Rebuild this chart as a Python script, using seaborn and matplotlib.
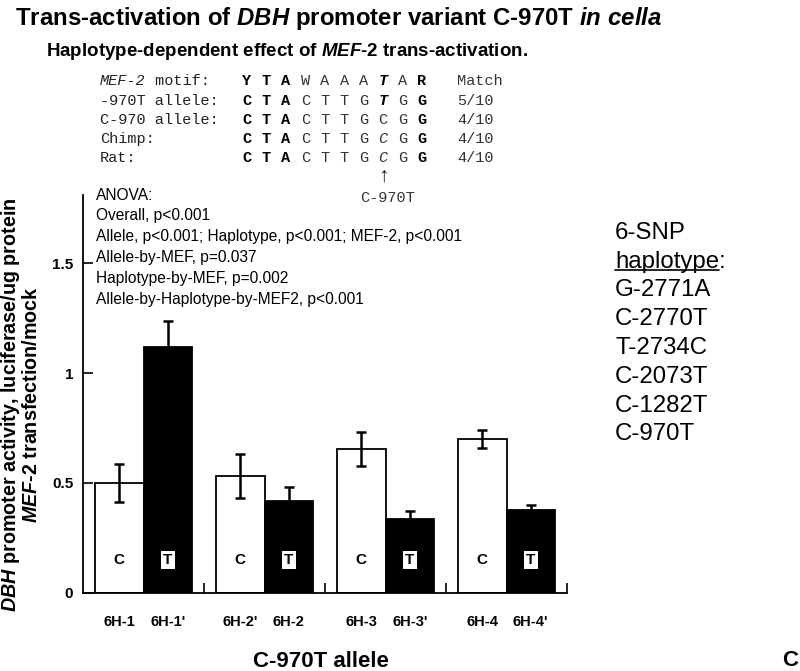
import numpy as np
import pandas as pd
import matplotlib
matplotlib.use("Agg")
import matplotlib.pyplot as plt
from matplotlib.lines import Line2D
import seaborn as sns

# -----------------------------
# Data
# -----------------------------
groups = ["6H-1", "6H-2", "6H-3", "6H-4"]
alleles = ["C", "T"]
labels_C = ["6H-1", "6H-2'", "6H-3", "6H-4"]
labels_T = ["6H-1'", "6H-2", "6H-3'", "6H-4'"]
mean_C = [0.50, 0.532, 0.655, 0.70]
err_C = [0.086, 0.10, 0.078, 0.043]
mean_T = [1.118, 0.418, 0.336, 0.377]
err_T = [0.118, 0.064, 0.037, 0.023]

yticks = [0, 0.5, 1, 1.5]
ytick_labels = ["0", "0.5", "1", "1.5"]

anova_lines = [
    "ANOVA:",
    "Overall, p<0.001",
    "Allele, p<0.001; Haplotype, p<0.001; MEF-2, p<0.001",
    "Allele-by-MEF, p=0.037",
    "Haplotype-by-MEF, p=0.002",
    "Allele-by-Haplotype-by-MEF2, p<0.001",
]
snp_list = ["G-2771A", "C-2770T", "T-2734C", "C-2073T", "C-1282T", "C-970T"]

# motif alignment: (letter, style) with style n=normal, b=bold, bi=bold italic, i=italic
motif_rows = [
    ("MEF-2 motif:", [("Y", "b"), ("T", "b"), ("A", "b"), ("W", "n"), ("A", "n"), ("A", "n"),
                      ("A", "n"), ("T", "bi"), ("A", "n"), ("R", "b")], "Match"),
    ("-970T allele:", [("C", "b"), ("T", "b"), ("A", "b"), ("C", "n"), ("T", "n"), ("T", "n"),
                       ("G", "n"), ("T", "bi"), ("G", "n"), ("G", "b")], "5/10"),
    ("C-970 allele:", [("C", "b"), ("T", "b"), ("A", "b"), ("C", "n"), ("T", "n"), ("T", "n"),
                       ("G", "n"), ("C", "n"), ("G", "n"), ("G", "b")], "4/10"),
    ("Chimp:", [("C", "b"), ("T", "b"), ("A", "b"), ("C", "n"), ("T", "n"), ("T", "n"),
                ("G", "n"), ("C", "i"), ("G", "n"), ("G", "b")], "4/10"),
    ("Rat:", [("C", "b"), ("T", "b"), ("A", "b"), ("C", "n"), ("T", "n"), ("T", "n"),
              ("G", "n"), ("C", "i"), ("G", "n"), ("G", "b")], "4/10"),
]

df = pd.DataFrame({
    "group": groups * 2,
    "allele": ["C"] * 4 + ["T"] * 4,
    "value": mean_C + mean_T,
})

# -----------------------------
# Style
# -----------------------------
sns.set_theme(style="ticks")
plt.rcParams["font.family"] = ["Liberation Sans", "DejaVu Sans"]
plt.rcParams["text.color"] = "black"
plt.rcParams["axes.labelcolor"] = "black"
plt.rcParams["xtick.color"] = "black"
plt.rcParams["ytick.color"] = "black"
plt.rcParams["mathtext.fontset"] = "custom"
plt.rcParams["mathtext.it"] = "Liberation Sans:italic:bold"
plt.rcParams["mathtext.rm"] = "Liberation Sans:bold"
plt.rcParams["mathtext.bf"] = "Liberation Sans:bold"

W, H = 800, 671
fig = plt.figure(figsize=(W / 100, H / 100), dpi=100)
ax = fig.add_axes([83 / W, 1 - 593 / H, (567 - 83) / W, (593 - 195) / H])


def px(x, y):
    return x / W, 1 - y / H


# -----------------------------
# Bars
# -----------------------------
sns.barplot(data=df, x="group", y="value", hue="allele", order=groups, hue_order=alleles,
            palette={"C": "white", "T": "black"}, edgecolor="black", linewidth=1.3,
            errorbar=None, width=0.8, legend=False, ax=ax)

tick_pos, tick_lab = [], []
for cont, means, errs, labs, allele in zip(ax.containers, [mean_C, mean_T], [err_C, err_T],
                                           [labels_C, labels_T], alleles):
    xs = [p.get_x() + p.get_width() / 2 for p in cont]
    ax.errorbar(xs, means, yerr=errs, fmt="none", ecolor="black", elinewidth=1.8,
                capsize=3.5, capthick=1.8, zorder=3)
    for x in xs:
        if allele == "C":
            ax.text(x, 0.15, "C", ha="center", va="center", fontsize=11, fontweight="bold")
        else:
            ax.text(x, 0.15, "T", ha="center", va="center", fontsize=11, fontweight="bold",
                    bbox=dict(boxstyle="square,pad=0.15", fc="white", ec="none"))
    tick_pos += xs
    tick_lab += labs

ax.set_xlim(-0.5, len(groups) - 0.5)
ax.set_ylim(0, (593 - 195) / 220)
ax.set_xticks(tick_pos, tick_lab)
ax.set_xticks([0.5, 1.5, 2.5, 3.5], minor=True)
ax.tick_params(axis="x", which="major", length=0, pad=16, labelsize=10.5)
ax.tick_params(axis="x", which="minor", direction="in", length=7, width=1.2, color="black")
for t in ax.get_xticklabels():
    t.set_fontweight("bold")
ax.set_yticks(yticks, ytick_labels)
ax.tick_params(axis="y", direction="in", length=7, width=1.2, pad=7, labelsize=11, color="black")
for t in ax.get_yticklabels():
    t.set_fontweight("bold")
sns.despine(ax=ax)
for s in ["left", "bottom"]:
    ax.spines[s].set_linewidth(1.3)
    ax.spines[s].set_color("black")

ax.set_ylabel(r"$\mathit{DBH}$ promoter activity, luciferase/ug protein" + "\n"
              + r"$\mathit{MEF}$-2 transfection/mock",
              fontsize=14.2, fontweight="bold", linespacing=1.02, color="black")
ax.yaxis.set_label_coords((41 - 83) / 484, (593 - 405) / 398)
ax.set_xlabel("C-970T allele", fontsize=16, fontweight="bold", color="black")
ax.xaxis.set_label_coords((321 - 83) / 484, (593 - 651) / 398)

# -----------------------------
# Titles
# -----------------------------
fig.text(*px(15, 18), r"Trans-activation of $\mathit{DBH}$ promoter variant C-970T $\mathit{in\ cella}$",
         fontsize=17.3, fontweight="bold", va="center", ha="left")
fig.text(*px(46, 52), r"Haplotype-dependent effect of $\mathit{MEF}$-$\mathit{2}$ trans-activation.",
         fontsize=13.5, fontweight="bold", va="center", ha="left")

# -----------------------------
# Motif alignment
# -----------------------------
mono = ["Liberation Mono", "DejaVu Sans Mono"]
row_y = [81, 101, 120, 139, 158]
col_x = [247 + 19.45 * i for i in range(10)]
style_map = {"n": ("normal", "normal"), "b": ("bold", "normal"),
             "bi": ("bold", "italic"), "i": ("normal", "italic")}
for (lab, letters, match), y in zip(motif_rows, row_y):
    if lab.startswith("MEF-2"):
        fig.text(*px(100, y), "MEF-2", family=mono, style="italic", fontsize=11, va="center", color="#222")
        fig.text(*px(100 + 5 * 9.17, y), " motif:", family=mono, fontsize=11, va="center", color="#222")
    else:
        fig.text(*px(100, y), lab, family=mono, fontsize=11, va="center", color="#222")
    for (ch, st), x in zip(letters, col_x):
        wgt, sty = style_map[st]
        fig.text(*px(x, y), ch, family=mono, fontsize=11, fontweight=wgt, style=sty,
                 ha="center", va="center", color="black" if wgt == "bold" else "#333")
    fig.text(*px(457, y), match, family=mono, fontsize=11, va="center", color="#333")
fig.text(*px(col_x[7], 176), "\u2191", family=mono, fontsize=15, ha="center", va="center", color="#222")
fig.text(*px(360, 198), "C-970T", family=mono, fontsize=11, va="center", color="#333")

# -----------------------------
# ANOVA text
# -----------------------------
for i, line in enumerate(anova_lines):
    fig.text(*px(96, 195 + 20.9 * i), line, fontsize=11.2, va="center", ha="left")

# -----------------------------
# Haplotype legend on right
# -----------------------------
rsize = 17.3
fig.text(*px(615, 233), "6-SNP", fontsize=rsize, va="center")
hap = fig.text(*px(615, 262), "haplotype", fontsize=rsize, va="center")
fig.canvas.draw()
bb = hap.get_window_extent(fig.canvas.get_renderer())
fig.text(bb.x1 / W, 1 - 262 / H, ":", fontsize=rsize, va="center")
fig.add_artist(Line2D([bb.x0 / W, bb.x1 / W], [(bb.y0 + 3) / H, (bb.y0 + 3) / H],
                      color="black", lw=1.2))
for i, s in enumerate(snp_list):
    fig.text(*px(615, 290 + 28.9 * i), s, fontsize=rsize, va="center")

fig.text(*px(782, 660), "C", fontsize=16, fontweight="bold", va="center")

fig.savefig("out.png", dpi=100)
